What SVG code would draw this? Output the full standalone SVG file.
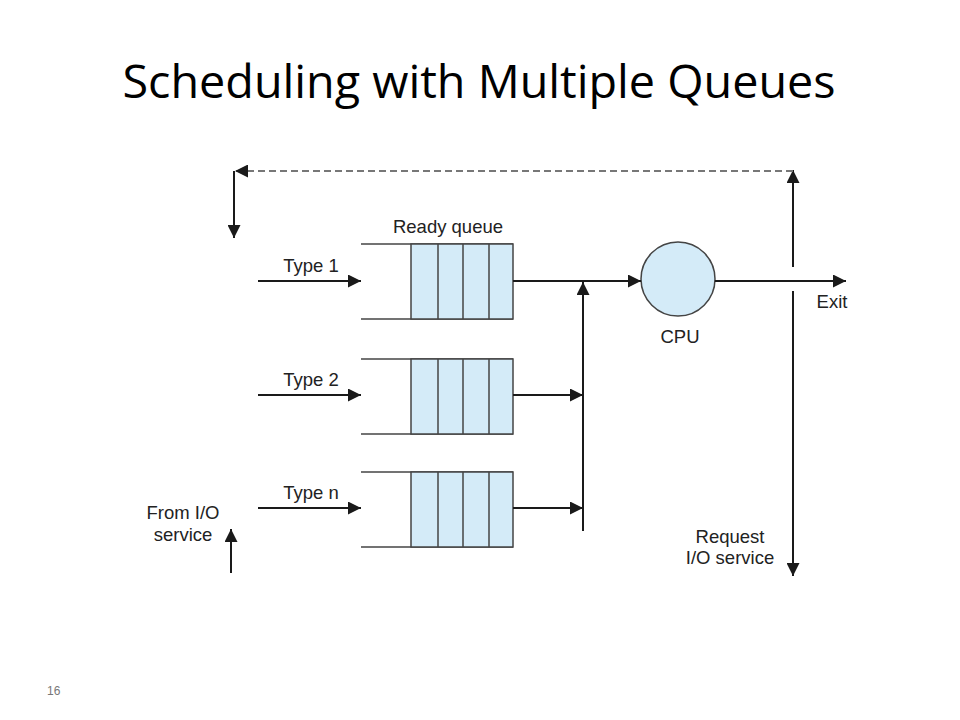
<svg xmlns="http://www.w3.org/2000/svg" width="960" height="720" viewBox="0 0 960 720">
<defs>
<marker id="ahb" viewBox="0 0 10 10" refX="10" refY="5" markerWidth="13" markerHeight="13" markerUnits="userSpaceOnUse" orient="auto">
<path d="M0,0 L10,5 L0,10 Z" fill="#1a1a1a"/>
</marker>
</defs>
<style>
.t{font-family:"Liberation Sans",Arial,sans-serif;font-size:18.5px;fill:#222}
.ln{stroke:#1a1a1a;stroke-width:2;fill:none}
.q{stroke:#444;stroke-width:1.5;fill:none}
.cell{fill:#d4ebf8;stroke:#444;stroke-width:1.5}
</style>
<rect width="960" height="720" fill="#fff"/>
<text x="479" y="98" text-anchor="middle" textLength="713" lengthAdjust="spacingAndGlyphs" style="font-family:'Open Sans','Liberation Sans',sans-serif;font-size:45px;fill:#000">Scheduling with Multiple Queues</text>
<text x="47" y="695" style="font-family:'Liberation Sans',sans-serif;font-size:12px;fill:#777">16</text>

<g id="queue1">
<line class="q" x1="361" y1="244" x2="513" y2="244"/>
<line class="q" x1="361" y1="319" x2="513" y2="319"/>
<rect class="cell" x="411" y="244" width="102" height="75"/>
<line class="q" x1="438" y1="244" x2="438" y2="319"/>
<line class="q" x1="463" y1="244" x2="463" y2="319"/>
<line class="q" x1="489" y1="244" x2="489" y2="319"/>
<text class="t" x="448" y="233" text-anchor="middle">Ready queue</text>
<text class="t" x="311" y="272" text-anchor="middle">Type 1</text>
</g>
<g id="queue2">
<line class="q" x1="361" y1="359" x2="513" y2="359"/>
<line class="q" x1="361" y1="434" x2="513" y2="434"/>
<rect class="cell" x="411" y="359" width="102" height="75"/>
<line class="q" x1="438" y1="359" x2="438" y2="434"/>
<line class="q" x1="463" y1="359" x2="463" y2="434"/>
<line class="q" x1="489" y1="359" x2="489" y2="434"/>
<text class="t" x="311" y="386" text-anchor="middle">Type 2</text>
</g>
<g id="queuen">
<line class="q" x1="361" y1="472" x2="513" y2="472"/>
<line class="q" x1="361" y1="547" x2="513" y2="547"/>
<rect class="cell" x="411" y="472" width="102" height="75"/>
<line class="q" x1="438" y1="472" x2="438" y2="547"/>
<line class="q" x1="463" y1="472" x2="463" y2="547"/>
<line class="q" x1="489" y1="472" x2="489" y2="547"/>
<text class="t" x="311" y="499" text-anchor="middle">Type n</text>
</g>
<g id="cpu">
<circle cx="678" cy="279" r="37" fill="#d4ebf8" stroke="#444" stroke-width="1.5"/>
<text class="t" x="680" y="343" text-anchor="middle">CPU</text>
</g>
<g id="labels">
<text class="t" x="832" y="308" text-anchor="middle">Exit</text>
<text class="t" x="183" y="519" text-anchor="middle">From I/O</text>
<text class="t" x="183" y="541" text-anchor="middle">service</text>
<text class="t" x="730" y="543" text-anchor="middle">Request</text>
<text class="t" x="730" y="564" text-anchor="middle">I/O service</text>
</g>
<g id="connectors">
<line class="ln" x1="258" y1="281" x2="361" y2="281" marker-end="url(#ahb)"/>
<line class="ln" x1="258" y1="395" x2="361" y2="395" marker-end="url(#ahb)"/>
<line class="ln" x1="258" y1="508" x2="361" y2="508" marker-end="url(#ahb)"/>
<line class="ln" x1="513" y1="281" x2="641" y2="281" marker-end="url(#ahb)"/>
<line class="ln" x1="513" y1="395" x2="583" y2="395" marker-end="url(#ahb)"/>
<line class="ln" x1="513" y1="508" x2="583" y2="508" marker-end="url(#ahb)"/>
<line class="ln" x1="583" y1="531" x2="583" y2="282" marker-end="url(#ahb)"/>
<line class="ln" x1="715" y1="281" x2="846" y2="281" marker-end="url(#ahb)"/>
<line class="ln" x1="793" y1="267" x2="793" y2="170" marker-end="url(#ahb)"/>
<line class="ln" x1="793" y1="291" x2="793" y2="576" marker-end="url(#ahb)"/>
<line x1="793" y1="171" x2="235" y2="171" stroke="#777" stroke-width="2" stroke-dasharray="7,4" marker-end="url(#ahb)"/>
<line class="ln" x1="234" y1="171" x2="234" y2="238" marker-end="url(#ahb)"/>
<line class="ln" x1="231" y1="573" x2="231" y2="529" marker-end="url(#ahb)"/>
</g>
</svg>
